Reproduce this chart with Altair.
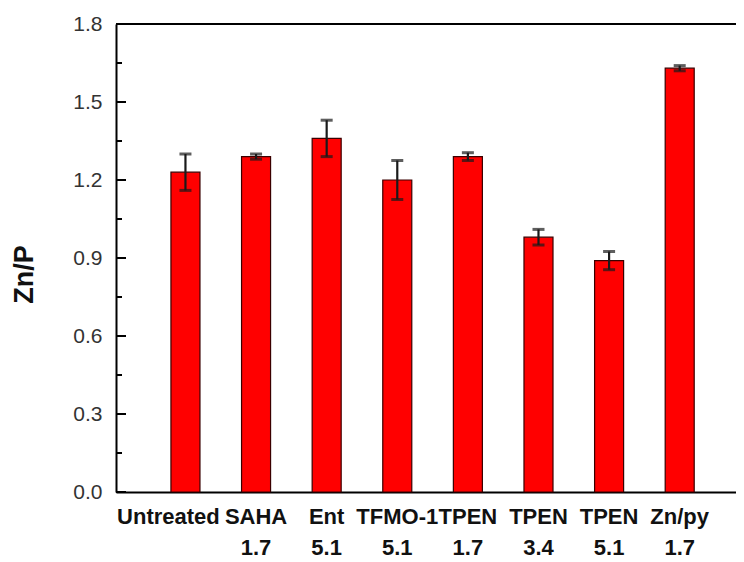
import altair as alt
import pandas as pd

# ---- data ----
names = ["Untreated", "SAHA", "Ent", "TFMO-1", "TPEN", "TPEN", "TPEN", "Zn/py"]
doses = ["", "1.7", "5.1", "5.1", "1.7", "3.4", "5.1", "1.7"]
zn_p = [1.23, 1.29, 1.36, 1.20, 1.29, 0.98, 0.89, 1.63]
err = [0.07, 0.01, 0.07, 0.075, 0.015, 0.03, 0.035, 0.01]

major_ticks = [0.0, 0.3, 0.6, 0.9, 1.2, 1.5, 1.8]
minor_ticks = [0.15, 0.45, 0.75, 1.05, 1.35, 1.65]

labels = [n + ("\n" + d if d else "") for n, d in zip(names, doses)]
df = pd.DataFrame({"label": labels, "value": zn_p, "err": err})
major_df = pd.DataFrame({"t": major_ticks})
minor_df = pd.DataFrame({"t": minor_ticks})

W, H = 620, 468
FONT = "Liberation Sans"

xscale = alt.Scale(paddingInner=0.589, paddingOuter=0.685, align=0.568)
yscale = alt.Scale(domain=[0, 1.8], nice=False, zero=True)

xaxis = alt.Axis(
    labelExpr="split(datum.label, '\\n')",
    labelFont=FONT, labelFontSize=22, labelFontWeight="bold",
    labelColor="#111", labelLineHeight=31, labelPadding=14,
    labelAngle=0, labelOverlap=False, labelBaseline="top",
    labelOffset={"condition": {"test": "datum.value == 'Untreated'", "value": -17}, "value": 0},
    ticks=False, domainColor="#000", domainWidth=2, title=None,
)
yaxis = alt.Axis(
    values=major_ticks, format=".1f", ticks=False, grid=False,
    labelFont=FONT, labelFontSize=21, labelColor="#333",
    labelPadding=14, domainColor="#000", domainWidth=2,
    titleFont=FONT, titleFontSize=27, titleFontWeight="bold",
    titleColor="#111", titlePadding=34, titleY=250, title="Zn/P",
)

X = alt.X("label:N", sort=labels, scale=xscale, axis=xaxis, title=None)

bars = alt.Chart(df).mark_bar(
    color="#ff0000", stroke="#3a0000", strokeWidth=1.2
).encode(
    x=X,
    y=alt.Y("value:Q", scale=yscale, axis=yaxis, title="Zn/P"),
)

errbars = alt.Chart(df).transform_calculate(
    lo="datum.value - datum.err", hi="datum.value + datum.err"
).mark_errorbar(
    ticks={"size": 12, "thickness": 3, "color": "#1a1a1a"},
    rule={"strokeWidth": 2.2, "color": "#1a1a1a"},
).encode(
    x=X,
    y=alt.Y("lo:Q", scale=yscale, axis=yaxis, title="Zn/P"),
    y2="hi:Q",
)

inner_major = alt.Chart(major_df).mark_rule(color="#000", strokeWidth=2).encode(
    y=alt.Y("t:Q", scale=yscale, axis=yaxis, title="Zn/P"),
    x=alt.value(0),
    x2=alt.value(10),
)
inner_minor = alt.Chart(minor_df).mark_rule(color="#000", strokeWidth=2).encode(
    y=alt.Y("t:Q", scale=yscale, axis=yaxis, title="Zn/P"),
    x=alt.value(0),
    x2=alt.value(6),
)

top_line = alt.Chart(df).mark_rule(color="#000", strokeWidth=2).encode(
    y=alt.value(0), x=alt.value(0), x2=alt.value(W)
)

chart = alt.layer(bars, errbars, inner_major, inner_minor, top_line).properties(
    width=W, height=H,
    autosize=alt.AutoSizeParams(type="none"),
    padding={"left": 108, "top": 16, "right": 0, "bottom": 66},
).configure_view(stroke=None).configure(background="white")

chart.save("out.html", embed_options={"renderer": "svg", "actions": False})
